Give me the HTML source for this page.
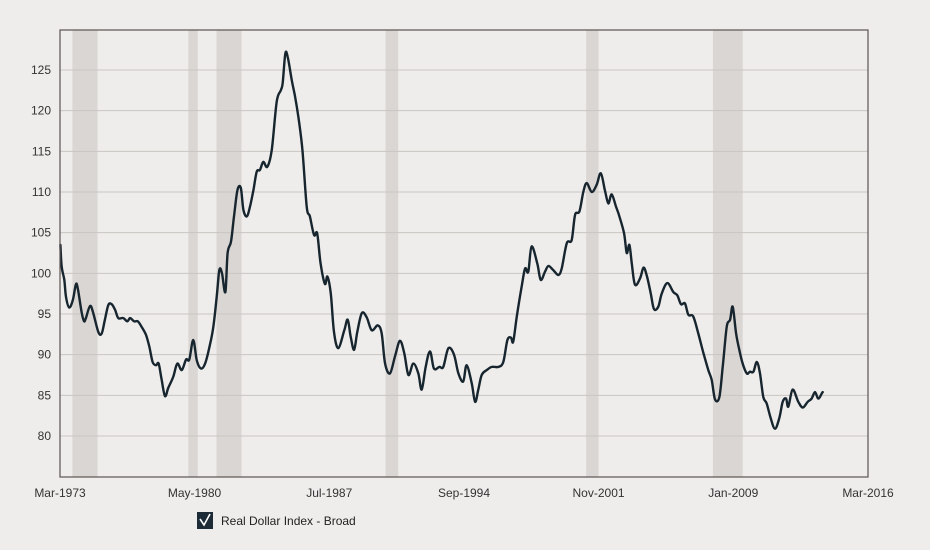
<!DOCTYPE html>
<html><head><meta charset="utf-8"><style>
body{margin:0;background:#efedeb;}
svg{display:block;font-family:"Liberation Sans",sans-serif;}
</style></head><body>
<svg id="chart" width="930" height="550">
<rect x="0" y="0" width="930" height="550" fill="#efedeb"/>
<rect x="60" y="30" width="808" height="447" fill="#eeedeb"/>
<g id="bands"></g><g id="grid"></g><g id="ylabels"></g><g id="xlabels"></g>
<path id="line" fill="none" stroke="#17252f" stroke-width="2.4" stroke-linejoin="round" stroke-linecap="round"/>
<rect x="60" y="30" width="808" height="447" fill="none" stroke="#5a5450" stroke-width="1.2"/>
<g>
<rect x="197" y="512" width="16" height="17" fill="#1d2b36"/>
<path d="M200 519 L204 525 L210 514" fill="none" stroke="#fff" stroke-width="1.6"/>
<text x="221" y="525" font-size="12" fill="#222">Real Dollar Index - Broad</text>
</g>
</svg>
<script>
const years=[1973.19,1973.26,1973.40,1973.49,1973.66,1973.85,1974.01,1974.11,1974.33,1974.45,1974.55,1974.77,1974.94,1975.21,1975.39,1975.56,1975.74,1975.92,1976.10,1976.27,1976.54,1976.75,1976.90,1977.11,1977.31,1977.52,1977.75,1977.92,1978.10,1978.28,1978.42,1978.58,1978.76,1978.93,1979.20,1979.41,1979.65,1979.88,1980.05,1980.26,1980.45,1980.67,1980.89,1981.15,1981.33,1981.51,1981.65,1981.79,1981.97,1982.09,1982.27,1982.43,1982.61,1982.79,1982.93,1983.11,1983.28,1983.46,1983.64,1983.81,1983.99,1984.20,1984.44,1984.70,1984.92,1985.02,1985.16,1985.29,1985.50,1985.68,1985.85,1986.07,1986.30,1986.47,1986.69,1986.86,1987.04,1987.27,1987.40,1987.58,1987.75,1987.98,1988.30,1988.48,1988.64,1988.82,1988.99,1989.23,1989.49,1989.76,1990.08,1990.29,1990.47,1990.73,1991.00,1991.26,1991.49,1991.71,1991.97,1992.24,1992.42,1992.63,1992.86,1993.07,1993.36,1993.57,1993.84,1994.14,1994.37,1994.63,1994.81,1995.08,1995.26,1995.43,1995.61,1995.88,1996.15,1996.50,1996.76,1996.98,1997.17,1997.29,1997.48,1997.74,1997.92,1998.09,1998.27,1998.57,1998.75,1998.98,1999.16,1999.42,1999.69,1999.87,2000.14,2000.40,2000.58,2000.81,2001.02,2001.20,2001.47,2001.73,2001.95,2002.17,2002.35,2002.53,2002.76,2002.94,2003.19,2003.33,2003.47,2003.60,2003.77,2004.04,2004.22,2004.39,2004.61,2004.78,2005.01,2005.19,2005.49,2005.81,2006.02,2006.22,2006.43,2006.61,2006.87,2007.14,2007.41,2007.67,2007.85,2008.03,2008.26,2008.44,2008.65,2008.83,2008.97,2009.15,2009.32,2009.50,2009.72,2009.89,2010.07,2010.25,2010.42,2010.60,2010.78,2010.99,2011.22,2011.45,2011.63,2011.81,2011.93,2012.16,2012.46,2012.70,2012.96,2013.17,2013.35,2013.53,2013.76,2013.97,2014.19];
const values=[103.5,100.8,99.2,97.1,95.8,96.7,98.6,98.2,95.1,94.1,94.5,96.0,95.1,92.8,92.6,94.3,96.1,96.2,95.5,94.5,94.5,94.1,94.5,94.1,94.1,93.4,92.4,91.0,89.1,88.7,88.9,86.9,84.9,85.9,87.3,88.9,88.1,89.4,89.4,91.8,89.3,88.3,88.9,91.2,93.4,97.1,100.4,100.0,97.7,102.5,103.9,107.0,110.2,110.5,107.8,107.0,108.2,110.2,112.5,112.7,113.7,113.1,115.2,121.1,122.5,123.4,127.0,126.6,123.8,121.7,119.3,115.2,108.2,107.0,104.7,104.9,101.2,98.7,99.6,97.5,92.8,90.8,93.0,94.3,92.2,90.6,92.8,95.1,94.6,93.0,93.6,92.6,88.9,87.7,89.8,91.7,90.2,87.5,88.9,87.7,85.7,88.5,90.4,88.3,88.5,88.5,90.8,90.0,87.7,86.7,88.7,86.5,84.2,85.7,87.5,88.1,88.5,88.5,89.1,91.8,92.1,91.6,94.7,98.4,100.6,100.2,103.3,101.2,99.2,100.2,100.9,100.4,99.8,100.6,103.7,104.1,107.2,107.6,110.0,111.1,110.0,110.9,112.3,110.2,108.6,109.7,108.2,107.0,104.9,102.5,103.5,101.2,98.6,99.4,100.7,99.8,97.5,95.6,95.9,97.5,98.8,97.7,97.3,96.2,96.3,94.9,94.7,92.6,90.2,88.1,86.9,84.5,84.8,88.5,93.4,94.3,95.9,92.6,90.6,88.9,87.7,87.9,87.9,89.1,87.7,84.8,84.0,82.2,80.9,82.2,84.2,84.6,83.6,85.7,84.2,83.5,84.2,84.6,85.4,84.6,85.4,85.7];
const recessionStarts=[1973.83,1980.0,1981.5,1990.5,2001.17,2007.92];
const recessionEnds=[1975.17,1980.5,1982.83,1991.17,2001.83,2009.5];
const yTicks=[80,85,90,95,100,105,110,115,120,125];
const xTickYears=[1973.17,1980.33,1987.5,1994.67,2001.83,2009.0,2016.17];
const xTickLabels=["Mar-1973","May-1980","Jul-1987","Sep-1994","Nov-2001","Jan-2009","Mar-2016"];
const X0=60,X1=868,Y0=1973.17,Y1=2016.17;
function xs(t){return X0+(t-Y0)/(Y1-Y0)*(X1-X0);}
function ys(v){return 70+(125-v)*(366/45);}
const NS="http://www.w3.org/2000/svg";
function mk(tag,attrs,parent){const e=document.createElementNS(NS,tag);for(const k in attrs)e.setAttribute(k,attrs[k]);parent.appendChild(e);return e;}
const bands=document.getElementById('bands');
recessionStarts.forEach((s,i)=>{
  const r=mk('rect',{x:xs(s),y:30,width:xs(recessionEnds[i])-xs(s),height:447,fill:'#dad6d3'},bands);
  
  
});
const grid=document.getElementById('grid'),yl=document.getElementById('ylabels');
yTicks.forEach(v=>{
  const l=mk('line',{x1:X0,x2:X1,y1:ys(v),y2:ys(v),stroke:'#c9c5c1','stroke-width':1},grid);
  
  
  const t=mk('text',{x:51,y:ys(v)+4,'text-anchor':'end','font-size':12,fill:'#333'},yl);
  t.textContent=v;
  
  
});
const xl=document.getElementById('xlabels');
xTickYears.forEach((t,i)=>{
  const e=mk('text',{x:xs(t),y:497,'text-anchor':'middle','font-size':12,fill:'#333'},xl);
  e.textContent=xTickLabels[i];
  
  
});
const pts=years.map((t,i)=>[xs(t),ys(values[i])]);
let d='M'+pts[0][0].toFixed(1)+' '+pts[0][1].toFixed(1);
for(let i=0;i<pts.length-1;i++){
  const p0=pts[Math.max(0,i-1)],p1=pts[i],p2=pts[i+1],p3=pts[Math.min(pts.length-1,i+2)];
  const c1x=p1[0]+(p2[0]-p0[0])/6,c1y=p1[1]+(p2[1]-p0[1])/6;
  const c2x=p2[0]-(p3[0]-p1[0])/6,c2y=p2[1]-(p3[1]-p1[1])/6;
  d+=' C'+c1x.toFixed(1)+' '+c1y.toFixed(1)+' '+c2x.toFixed(1)+' '+c2y.toFixed(1)+' '+p2[0].toFixed(1)+' '+p2[1].toFixed(1);
}
document.getElementById('line').setAttribute('d',d);
</script>
</body></html>
